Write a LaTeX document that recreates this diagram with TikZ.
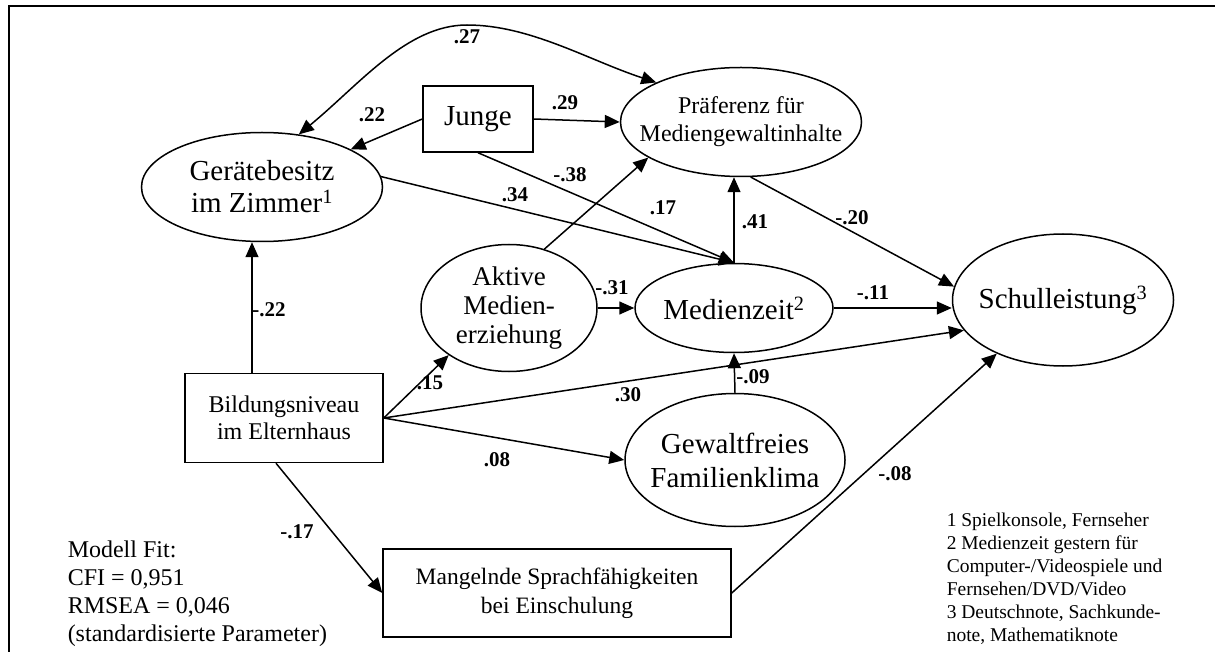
\documentclass[tikz,border=0pt]{standalone}
\usepackage{fontspec}
\setmainfont{Liberation Serif}
\usetikzlibrary{shapes.geometric, arrows.meta}

\tikzset{
  latent/.style={draw, ellipse, inner sep=-20pt, align=center},
  manifest/.style={draw, rectangle, inner sep=2pt, align=center},
  coef/.style={font=\bfseries\fontsize{21}{24}\selectfont, inner sep=0pt},
  note/.style={anchor=north west, align=left, inner sep=0pt},
  >={Triangle[length=15pt,width=13pt]}
}

\begin{document}
\begin{tikzpicture}[x=1pt, y=-1pt, line width=1.5pt]
    \useasboundingbox (0,0) rectangle (1215,652);
    \draw[line width=2pt] (9,652) -- (9,6) -- (1215,6);

    \node[latent, minimum width=241pt, minimum height=109pt, font=\fontsize{29}{32}\selectfont] (geraet) at (262,187) {Gerätebesitz\\im Zimmer\textsuperscript{1}};
    \node[manifest, minimum width=110pt, minimum height=66pt, font=\fontsize{29}{32}\selectfont] (junge) at (478,119) {Junge};
    \node[latent, minimum width=241pt, minimum height=109pt, font=\fontsize{24}{28}\selectfont] (praef) at (741,122) {Präferenz für\\Mediengewaltinhalte};
    \node[latent, minimum width=176pt, minimum height=127pt, font=\fontsize{27}{29}\selectfont] (aktiv) at (509,308) {Aktive\\Medien-\\erziehung};
    \node[latent, minimum width=198pt, minimum height=89pt, font=\fontsize{29}{32}\selectfont] (mzeit) at (734,308) {Medienzeit\textsuperscript{2}};
    \node[latent, minimum width=221pt, minimum height=132pt, font=\fontsize{29}{32}\selectfont] (schul) at (1063,300) {Schulleistung\textsuperscript{3}};
    \node[manifest, minimum width=198pt, minimum height=89pt, font=\fontsize{24}{27}\selectfont] (bildung) at (284,418) {Bildungsniveau\\im Elternhaus};
    \node[latent, minimum width=220pt, minimum height=133pt, font=\fontsize{29}{34}\selectfont] (klima) at (735,460) {Gewaltfreies\\Familienklima};
    \node[manifest, minimum width=348pt, minimum height=88pt, font=\fontsize{23.5}{29}\selectfont] (sprache) at (557,593) {Mangelnde Sprachfähigkeiten\\bei Einschulung};

    \node[note, font=\fontsize{24}{28}\selectfont] (fit) at (67,540) {Modell Fit:\\CFI = 0,951\\RMSEA = 0,046\\(standardisierte Parameter)};
    \node[note, font=\fontsize{19.5}{23}\selectfont] (fussnote) at (946,512) {1 Spielkonsole, Fernseher\\2 Medienzeit gestern für\\Computer-/Videospiele und\\Fernsehen/DVD/Video\\3 Deutschnote, Sachkunde-\\note, Mathematiknote};

    \draw[<->] (geraet.55) .. controls (360,84) and (407,25) .. (467,25)
      .. controls (530,25) and (588,60) .. (praef.155);
    \draw[->] (junge.west) -- (geraet);
    \draw[->] (junge.east) -- (praef.west);
    \draw[->] (junge.south) -- (mzeit.north);
    \draw[->] (geraet.5) -- (mzeit.north);
    \draw[->] (aktiv.59) -- (praef.201);
    \draw[->] (aktiv) -- (mzeit);
    \draw[->] (mzeit.north) -- (mzeit.north |- praef.south);
    \draw[->] (praef.-80) -- (schul.173);
    \draw[->] (mzeit.east) -- (mzeit.east -| schul.west);
    \draw[->] ([xshift=-32pt]bildung.north) -- ([xshift=-10pt]geraet.south);
    \draw[->] (bildung.east) -- (aktiv.218);
    \draw[->] (bildung.east) -- (schul.197);
    \draw[->] (bildung.east) -- (klima.west);
    \draw[->] (klima.north) -- (mzeit.south);
    \draw[->] (bildung.-100) -- (sprache.west);
    \draw[->] (sprache.east) -- (schul.219);

    \node[coef] (c27) at (467,37) {.27};
    \node[coef] (c22) at (372,115) {.22};
    \node[coef] (c29) at (565,103) {.29};
    \node[coef] (c38) at (570,175) {-.38};
    \node[coef] (c34) at (515,195) {.34};
    \node[coef] (c17) at (663,208) {.17};
    \node[coef] (c41) at (755,222) {.41};
    \node[coef] (c20) at (852,218) {-.20};
    \node[coef] (c11) at (873,293) {-.11};
    \node[coef] (c31) at (612,288) {-.31};
    \node[coef] (cb22) at (269,310) {-.22};
    \node[coef] (c15) at (430,383) {.15};
    \node[coef] (c30) at (628,395) {.30};
    \node[coef] (c09) at (753,377) {-.09};
    \node[coef] (c08) at (497,460) {.08};
    \node[coef] (c17b) at (297,532) {-.17};
    \node[coef] (cs08) at (895,474) {-.08};
  \end{tikzpicture}
\end{document}
